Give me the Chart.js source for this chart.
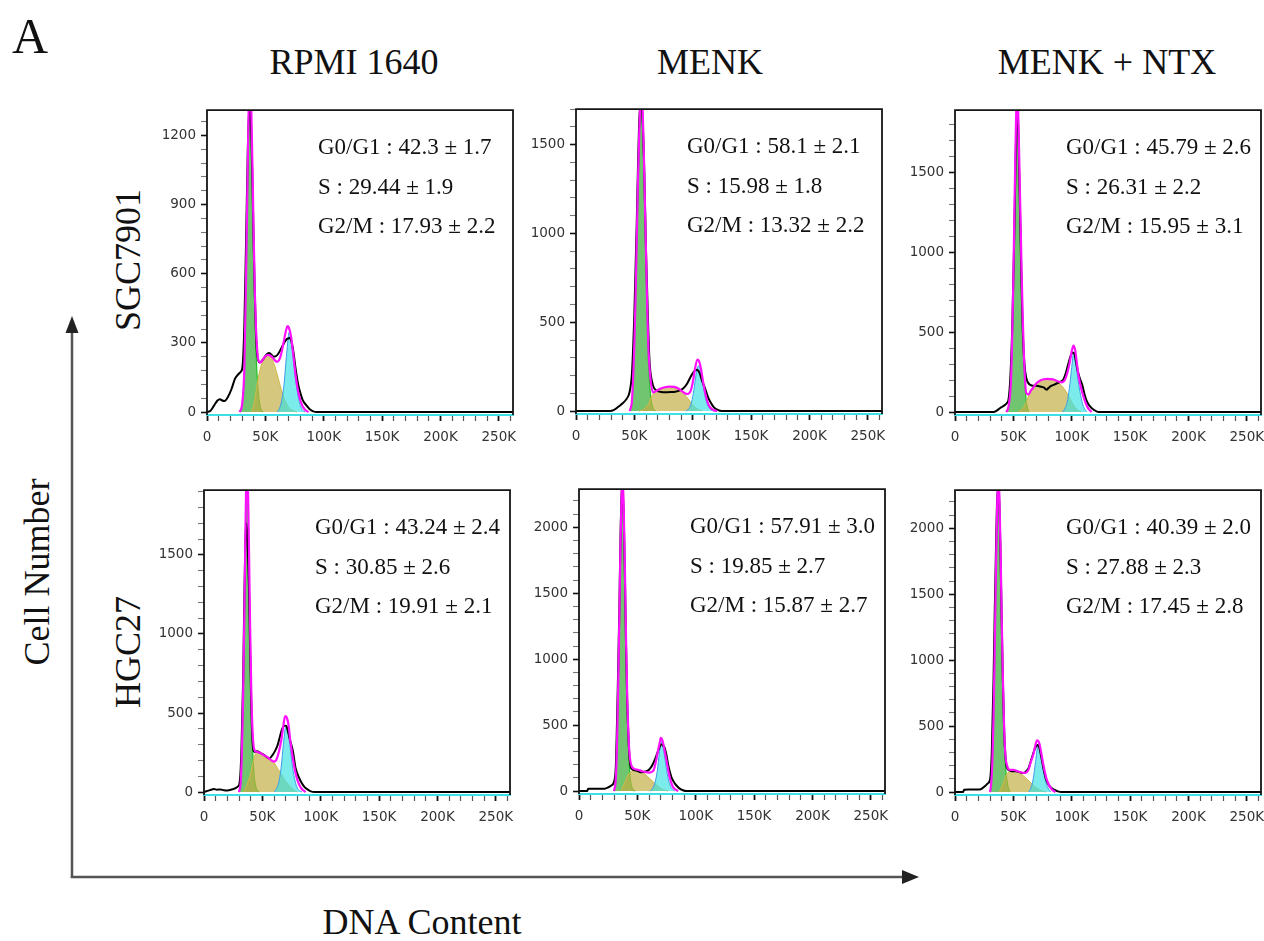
<!DOCTYPE html>
<html>
<head>
<meta charset="utf-8">
<script src="https://cdn.jsdelivr.net/npm/chart.js@4.4.1/dist/chart.umd.min.js"></script>
<style>
  html, body { margin: 0; padding: 0; background: #fff; }
  #fig { position: relative; width: 1264px; height: 941px; overflow: hidden;
         font-family: "Liberation Serif", "Times New Roman", serif; color: #111; }
  .panel { position: absolute; width: 374px; height: 358px; }
  .txt { position: absolute; white-space: nowrap; }
  .title { font-size: 36px; line-height: 36px; width: 400px; text-align: center; }
  .rot { font-size: 36px; line-height: 36px; width: 300px; height: 36px; text-align: center; transform: rotate(-90deg); }
  .stat { font-size: 23px; line-height: 23px; }
</style>
</head>
<body>
<div id="fig">
  <svg width="1264" height="941" style="position:absolute;left:0;top:0">
    <line x1="72" y1="878" x2="72" y2="328" stroke="#555" stroke-width="2.5"/>
    <polygon points="72,316 65.5,333 78.5,333" fill="#222"/>
    <line x1="70.8" y1="877" x2="905" y2="877" stroke="#555" stroke-width="2.5"/>
    <polygon points="919,877 902,870 902,884" fill="#222"/>
  </svg>
  <div class="txt" style="left:12px;top:11px;font-size:50px;line-height:50px;">A</div>
  <div class="txt" style="left:222px;top:904px;font-size:36px;line-height:36px;width:400px;text-align:center;">DNA Content</div>
  <div class="txt rot" style="left:-113px;top:554px;">Cell Number</div>
</div>

<script>
// DNA content in thousands (K), counts per channel
const columnTitles = ["RPMI 1640", "MENK", "MENK + NTX"];
const rowTitles = ["SGC7901", "HGC27"];
const phaseNames = ["G0/G1", "S", "G2/M"];

const xTickMajor = 50;
const xTickMinor = 10;
const dnaMaxK = 262.144;

const yAxisMax = [1310, 1700, 1890, 1910, 2290, 2290];
const yTickMajor = [300, 500, 500, 500, 500, 500];
const yTickMinor = [60, 100, 100, 100, 100, 100];

// mean ± sd of each phase (%)
const sgcRpmiStats = ["42.3 ± 1.7", "29.44 ± 1.9", "17.93 ± 2.2"];
const sgcMenkStats = ["58.1 ± 2.1", "15.98 ± 1.8", "13.32 ± 2.2"];
const sgcNtxStats = ["45.79 ± 2.6", "26.31 ± 2.2", "15.95 ± 3.1"];
const hgcRpmiStats = ["43.24 ± 2.4", "30.85 ± 2.6", "19.91 ± 2.1"];
const hgcMenkStats = ["57.91 ± 3.0", "19.85 ± 2.7", "15.87 ± 2.7"];
const hgcNtxStats = ["40.39 ± 2.0", "27.88 ± 2.3", "17.45 ± 2.8"];

// SGC7901 + RPMI 1640
const sgcRpmiHist = [[0,0],[3,6],[6,28],[9,50],[11,56],[13,50],[15,48],[18,66],[21,100],[24,145],[27,165],[29,175],[30.5,200],[32,380],[33.5,750],[35,1150],[36,1290],[37,1305],[38,1200],[39,980],[40,720],[41,500],[42,330],[43,250],[45,215],[48,228],[51,250],[53,256],[55,250],[57,240],[60,246],[63,270],[66,300],[68,315],[70,320],[71,322],[72,312],[74,262],[76,185],[78,122],[80,82],[82,52],[85,30],[88,12],[91,3],[94,0],[262.144,0]];
const sgcRpmiG1 = [[28,0],[30,30],[32,180],[33.5,550],[35,1000],[36,1230],[37,1290],[38,1200],[39,980],[40,700],[41,450],[42,260],[44,80],[46,15],[48,0]];
const sgcRpmiS = [[38,0],[40,30],[42,90],[44,150],[46,195],[48,222],[50,238],[52,245],[54,242],[56,228],[58,200],[60,165],[62,128],[64,92],[66,62],[68,38],[70,20],[73,8],[77,0]];
const sgcRpmiG2 = [[60,0],[62,15],[64,50],[66,120],[68,240],[70,340],[71,350],[72,320],[74,230],[76,140],[78,70],[80,28],[82,8],[84,0]];
const sgcRpmiFit = [[28,0],[30,30],[32,190],[33.5,600],[35,1100],[36,1400],[37,1450],[38,1300],[39,1050],[40,760],[41,520],[42,360],[43,270],[44,225],[46,215],[48,230],[50,242],[52,248],[54,245],[56,238],[58,225],[60,218],[62,228],[64,262],[66,312],[68,360],[69,373],[70,368],[72,328],[74,245],[76,155],[78,92],[80,50],[82,24],[84,10],[87,0]];

// SGC7901 + MENK
const sgcMenkHist = [[0,0],[29,0],[33,8],[38,33],[41,50],[43.5,70],[46,110],[48,220],[50,550],[51,800],[52,1050],[53,1350],[54,1600],[55.5,1760],[57,1650],[58.5,1350],[60,900],[61.5,550],[63,280],[65,170],[67,128],[70,112],[73,107],[77,106],[81,107],[85,109],[89,116],[92,128],[95,152],[98,190],[101,222],[103.5,232],[106,212],[108,170],[111,120],[113,80],[115,52],[118,22],[121,8],[125,0],[262.144,0]];
const sgcMenkG1 = [[46,0],[48,60],[50,350],[51,600],[52,900],[53,1200],[54,1450],[55,1650],[56,1720],[57,1620],[58,1400],[59,1100],[60,800],[61,500],[62,280],[64,80],[66,15],[68,0]];
const sgcMenkS = [[54,0],[58,10],[62,40],[65,85],[68,110],[72,125],[76,133],[80,136],[84,133],[88,122],[92,100],[95,78],[98,52],[101,28],[104,12],[108,0]];
const sgcMenkG2 = [[94,0],[97,15],[99,50],[101,120],[103,210],[105,255],[107,220],[109,140],[111,70],[113,30],[115,10],[118,0]];
const sgcMenkFit = [[46,0],[48,65],[50,380],[51,630],[52,950],[53,1270],[54,1520],[55,1730],[56,1820],[57,1720],[58,1480],[59,1180],[60,880],[61,580],[62,360],[64,170],[66,105],[68,110],[72,125],[76,134],[80,138],[84,136],[88,126],[92,106],[95,96],[98,110],[100,160],[102,240],[104,290],[105.5,280],[107,240],[109,160],[111,92],[113,45],[115,20],[118,5],[121,0]];

// SGC7901 + MENK + NTX
const sgcNtxHist = [[0,0],[33,0],[36,10],[39,27],[42,40],[44.5,57],[46,85],[47.5,230],[49,520],[50.5,1000],[52,1600],[53,1880],[54,1820],[55,1500],[56,1150],[57,800],[58,520],[59.5,300],[61,215],[64,172],[67,165],[70,164],[73,160],[76,154],[78.5,140],[80,150],[82,162],[85,172],[88,182],[91,192],[93,205],[95,245],[97,300],[99,350],[100.5,372],[102,370],[103.5,320],[105,262],[107,210],[109,170],[111,110],[113,66],[116,32],[119,14],[123,0],[262.144,0]];
const sgcNtxG1 = [[44,0],[46,40],[48,200],[49,450],[50,800],[51,1250],[52,1650],[53,1920],[54,1850],[55,1550],[56,1200],[57,850],[58,550],[59,300],[61,70],[63,0]];
const sgcNtxS = [[54,0],[57,15],[60,45],[63,100],[66,150],[70,185],[75,203],[80,207],[85,200],[90,175],[95,130],[98,90],[101,50],[104,20],[108,0]];
const sgcNtxG2 = [[92,0],[94,20],[96,60],[98,150],[100,280],[101.5,365],[103,320],[105,220],[107,130],[109,60],[111,20],[113,0]];
const sgcNtxFit = [[44,0],[46,40],[48,205],[49,470],[50,830],[51,1300],[52,1720],[53,2000],[54,1920],[55,1600],[56,1250],[57,900],[58,600],[59,360],[61,120],[63,110],[65,135],[67,152],[70,182],[73,197],[76,205],[79,208],[82,206],[85,202],[88,192],[91,186],[94,200],[96,240],[98,300],[100,380],[101.5,416],[103,385],[104.5,300],[106,220],[108,150],[110,98],[112,55],[114,25],[117,0]];

// HGC27 + RPMI 1640
const hgcRpmiHist = [[0,0],[2,5],[5,12],[8.6,19],[11,15],[14,16],[17,12],[20,10],[23,14],[27,25],[29,35],[30.5,60],[32,250],[33.5,700],[34.5,1200],[35.5,1600],[36.5,1700],[37.5,1550],[38.5,1300],[39.5,900],[40.5,550],[41.5,330],[43,255],[45.5,258],[48,248],[51,237],[54,220],[56,212],[58.5,232],[61,262],[63,296],[65,350],[67,400],[69,420],[70.5,418],[72,380],[74,320],[76,265],[78.5,150],[81,98],[83,67],[85,42],[87,25],[91,6],[95,0],[262.144,0]];
const hgcRpmiG1 = [[30,0],[31.5,60],[32.5,250],[33.5,550],[34.5,1000],[35.5,1550],[36.5,1900],[37.5,1850],[38.5,1450],[39.5,950],[40.5,550],[41.5,300],[43,100],[45,20],[47,0]];
const hgcRpmiS = [[34,0],[37,50],[40,120],[42,190],[44,240],[46,252],[48,245],[50,235],[53,220],[56,205],[60,185],[63,150],[66,115],[69,80],[72,50],[75,25],[78,8],[80,0]];
const hgcRpmiG2 = [[60,0],[62,20],[64,60],[66,150],[68,300],[70,410],[72,380],[74,270],[76,150],[78,70],[80,25],[82,8],[84,0]];
const hgcRpmiFit = [[30,0],[31.5,70],[32.5,270],[33.5,600],[34.5,1080],[35.5,1650],[36.5,2000],[37.5,1950],[38.5,1550],[39.5,1050],[40.5,640],[41.5,400],[43,270],[45,255],[48,248],[51,234],[54,222],[57,205],[60,192],[62,205],[64,250],[66,320],[68,420],[69.5,480],[71,470],[72.5,420],[74,320],[76,220],[78,135],[80,77],[82,40],[84,18],[87,0]];

// HGC27 + MENK
const hgcMenkHist = [[0,0],[7,0],[7.8,17],[12,18],[17,17],[22,18],[25,28],[27.7,42],[30,70],[31.5,180],[32.5,500],[33.5,900],[34.5,1350],[35.5,1900],[36.5,2250],[37.3,2300],[38.3,2100],[39.3,1650],[40.3,1100],[41.3,680],[42.5,380],[43.5,230],[45,168],[49,155],[53,143],[57,148],[60,162],[63,200],[65.5,250],[67.7,303],[70.6,353],[72,345],[73.4,328],[75,270],[76.3,204],[78,140],[79.2,104],[81.5,65],[83.5,42],[86,20],[89,6],[92,0],[262.144,0]];
const hgcMenkG1 = [[30,0],[31.5,80],[32.5,300],[33.5,700],[34.5,1200],[35.5,1750],[36.5,2150],[37.3,2280],[38.3,2050],[39.3,1600],[40.3,1050],[41.3,620],[42.5,300],[44,90],[46,15],[48,0]];
const hgcMenkS = [[36,0],[39,60],[42,120],[45,150],[48,158],[51,155],[54,145],[57,125],[60,100],[63,75],[66,50],[69,28],[72,12],[76,0]];
const hgcMenkG2 = [[61,0],[63,20],[65,60],[67,150],[69,300],[70.5,375],[72,330],[74,220],[76,110],[78,45],[80,15],[82,0]];
const hgcMenkFit = [[30,0],[31.5,90],[32.5,330],[33.5,760],[34.5,1280],[35.5,1850],[36.5,2260],[37.3,2400],[38.3,2150],[39.3,1700],[40.3,1150],[41.3,720],[42.5,400],[43.5,260],[45,190],[48,166],[51,160],[54,150],[57,143],[60,140],[62,145],[64,160],[66,229],[68,320],[69.2,366],[70,403],[71,395],[72,366],[73.5,300],[75,229],[77.7,104],[80,40],[82,15],[85,0]];

// HGC27 + MENK + NTX
const hgcNtxHist = [[0,0],[7,0],[7.8,18],[12,20],[17,19],[21.4,20],[25.7,45],[28,65],[30,95],[31.5,300],[33,850],[34,1350],[35,1800],[36,2200],[37,2300],[38,2200],[39,1800],[40,1300],[41,850],[42,500],[43,300],[44.3,190],[46.5,165],[48.6,157],[52,157],[55,152],[58.6,144],[61,158],[63,182],[65.7,256],[68.6,331],[70.6,356],[72,345],[73,306],[74.5,240],[75.7,182],[77,130],[78.6,82],[81,45],[84.3,20],[88,6],[91,0],[262.144,0]];
const hgcNtxG1 = [[30,0],[31,60],[32,220],[33,520],[34,1000],[35,1550],[36,2050],[37,2300],[38,2150],[39,1750],[40,1250],[41,800],[42,450],[43,230],[45,60],[47,0]];
const hgcNtxS = [[38,0],[41,60],[44,130],[47,158],[50,162],[53,155],[56,140],[59,120],[62,95],[65,70],[68,45],[71,25],[74,10],[78,0]];
const hgcNtxG2 = [[63,0],[65,30],[67,100],[69,230],[71,350],[72,355],[74,260],[76,150],[78,70],[80,25],[82,0]];
const hgcNtxFit = [[30,0],[31,65],[32,230],[33,560],[34,1060],[35,1620],[36,2130],[37,2400],[38,2250],[39,1850],[40,1330],[41,880],[42,520],[43,300],[45,190],[47,168],[50,168],[53,160],[56,150],[59,145],[61,148],[63,170],[65,230],[67,281],[69,360],[70.3,393],[71.5,385],[72.5,360],[74,290],[75.7,207],[77,150],[78.6,95],[81,45],[83,20],[86,0]];

const panelHists = [sgcRpmiHist, sgcMenkHist, sgcNtxHist, hgcRpmiHist, hgcMenkHist, hgcNtxHist];
const panelG1 = [sgcRpmiG1, sgcMenkG1, sgcNtxG1, hgcRpmiG1, hgcMenkG1, hgcNtxG1];
const panelS = [sgcRpmiS, sgcMenkS, sgcNtxS, hgcRpmiS, hgcMenkS, hgcNtxS];
const panelG2 = [sgcRpmiG2, sgcMenkG2, sgcNtxG2, hgcRpmiG2, hgcMenkG2, hgcNtxG2];
const panelFit = [sgcRpmiFit, sgcMenkFit, sgcNtxFit, hgcRpmiFit, hgcMenkFit, hgcNtxFit];
const panelStats = [sgcRpmiStats, sgcMenkStats, sgcNtxStats, hgcRpmiStats, hgcMenkStats, hgcNtxStats];

// layout: plot-area top-left corner of each panel
const plotLeft = [207, 576, 955, 204, 579, 955];
const plotTop = [105, 104, 105, 485, 484, 485];
const titleCenterX = [354, 710, 1107];
const rowCenterY = [260, 652];
const statOffset = [42, 82, 121];

const fig = document.getElementById("fig");

const addText = (cls, text, style) => {
  let d = document.createElement("div");
  d.className = "txt " + cls;
  d.textContent = text;
  Object.assign(d.style, style);
  fig.append(d);
};

columnTitles.forEach((t, i) => {
  addText("title", t, { left: titleCenterX[i] - 200 + "px", top: "44px" });
});
rowTitles.forEach((t, i) => {
  addText("rot", t, { left: 128 - 150 + "px", top: rowCenterY[i] - 18 + "px" });
});

const pts = (arr) => arr.map(([x, y]) => ({ x: x, y: y }));

const framePlugin = {
  id: "frame",
  afterDatasetsDraw(chart) {
    const { ctx, chartArea: a } = chart;
    ctx.save();
    ctx.strokeStyle = "#151515";
    ctx.lineWidth = 1.8;
    ctx.beginPath();
    ctx.moveTo(a.left, a.bottom);
    ctx.lineTo(a.left, a.top);
    ctx.lineTo(a.right, a.top);
    ctx.lineTo(a.right, a.bottom);
    ctx.stroke();
    ctx.restore();
  },
};

const tickFont = { family: "DejaVu Sans", size: 13.5 };

const stepTicks = (scale, step, top) => {
  let t = [];
  for (let v = 0; v <= top + 1e-9; v += step) t.push({ value: v });
  scale.ticks = t;
};

const drawPanel = (idx) => {
  let wrap = document.createElement("div");
  wrap.className = "panel";
  wrap.style.left = plotLeft[idx] - 60 + "px";
  wrap.style.top = plotTop[idx] - 8 + "px";
  let canvas = document.createElement("canvas");
  wrap.append(canvas);
  fig.append(wrap);

  const yMax = yAxisMax[idx];
  const yMin = -yMax * 3 / 307;
  const yMajor = yTickMajor[idx];
  const isMajorY = (v) => Math.round(v) % yMajor === 0;
  const isMajorX = (v) => Math.round(v) % xTickMajor === 0;

  new Chart(canvas, {
    type: "line",
    data: {
      datasets: [
        {
          label: "Fit",
          data: pts(panelFit[idx]),
          borderColor: "#ff10ff",
          borderWidth: 2.2,
          order: 0,
        },
        {
          label: "Histogram",
          data: pts(panelHists[idx]),
          borderColor: "#000",
          borderWidth: 2,
          order: 1,
        },
        {
          label: "G2/M",
          data: pts(panelG2[idx]),
          borderColor: "#3d9be8",
          backgroundColor: "rgba(60,225,225,0.68)",
          borderWidth: 1,
          fill: "origin",
          order: 2,
        },
        {
          label: "S",
          data: pts(panelS[idx]),
          borderColor: "#d0b840",
          backgroundColor: "rgba(195,175,70,0.7)",
          borderWidth: 1,
          fill: "origin",
          order: 3,
        },
        {
          label: "G0/G1",
          data: pts(panelG1[idx]),
          borderColor: "#22c022",
          backgroundColor: "rgba(45,170,45,0.68)",
          borderWidth: 1.2,
          fill: "origin",
          order: 4,
        },
      ],
    },
    options: {
      responsive: true,
      maintainAspectRatio: false,
      animation: false,
      events: [],
      layout: { padding: { top: 8, right: 8, left: 0, bottom: 0 } },
      elements: {
        point: { radius: 0 },
        line: { cubicInterpolationMode: "monotone" },
      },
      plugins: { legend: { display: false }, tooltip: { enabled: false } },
      scales: {
        x: {
          type: "linear",
          min: 0,
          max: dnaMaxK,
          afterFit: (s) => { s.height = 40; },
          afterBuildTicks: (s) => stepTicks(s, xTickMinor, dnaMaxK),
          border: { display: true, color: "#3ee0e8", width: 2 },
          grid: {
            drawOnChartArea: false,
            drawTicks: true,
            tickLength: 6,
            tickColor: (c) => (c.tick && isMajorX(c.tick.value) ? "#111" : "#555"),
            tickWidth: (c) => (c.tick && isMajorX(c.tick.value) ? 1.8 : 1.2),
          },
          ticks: {
            autoSkip: false,
            maxRotation: 0,
            minRotation: 0,
            padding: 8,
            color: "#333",
            font: tickFont,
            callback: (v) => (isMajorX(v) ? (v === 0 ? "0" : Math.round(v) + "K") : ""),
          },
        },
        y: {
          type: "linear",
          min: yMin,
          max: yMax,
          afterFit: (s) => { s.width = 60; },
          afterBuildTicks: (s) => stepTicks(s, yTickMinor[idx], yMax),
          border: { display: false },
          grid: {
            drawOnChartArea: false,
            drawTicks: true,
            tickLength: 6,
            tickColor: (c) => (c.tick && isMajorY(c.tick.value) ? "#111" : "#777"),
            tickWidth: (c) => (c.tick && isMajorY(c.tick.value) ? 1.6 : 1.1),
          },
          ticks: {
            autoSkip: false,
            padding: 5,
            color: "#333",
            font: tickFont,
            callback: (v) => (isMajorY(v) ? String(Math.round(v)) : ""),
          },
        },
      },
    },
    plugins: [framePlugin],
  });

  panelStats[idx].forEach((s, k) => {
    addText("stat", phaseNames[k] + " : " + s, {
      left: plotLeft[idx] + 111 + "px",
      top: plotTop[idx] + statOffset[k] - 12 + "px",
    });
  });
};

for (let i = 0; i < 6; i++) drawPanel(i);
</script>
</body>
</html>
